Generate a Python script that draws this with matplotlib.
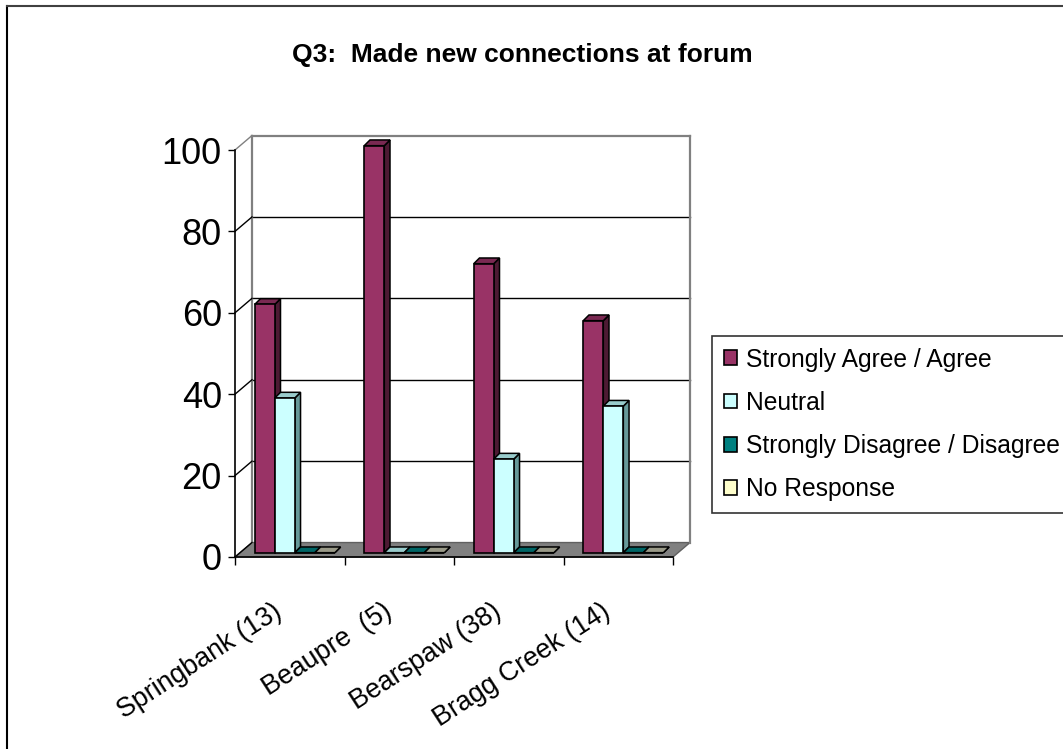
import matplotlib
matplotlib.use("Agg")
import matplotlib.pyplot as plt
from matplotlib.patches import Polygon, Patch
from matplotlib.lines import Line2D
from matplotlib.transforms import ScaledTranslation

plt.rcParams["font.family"] = ["Liberation Sans", "DejaVu Sans"]

# ---- data -------------------------------------------------------------
categories = ["Springbank (13)", "Beaupre  (5)", "Bearspaw (38)", "Bragg Creek (14)"]
series_names = ["Strongly Agree / Agree", "Neutral",
                "Strongly Disagree / Disagree", "No Response"]
agree = [61, 100, 71, 57]
neutral = [38, 0, 23, 36]
disagree = [0, 0, 0, 0]
no_response = [0, 0, 0, 0]
y_ticks = [0, 20, 40, 60, 80, 100]
title = "Q3:  Made new connections at forum"

# ---- styling ----------------------------------------------------------
front_colors = ["#993366", "#CCFFFF", "#008080", "#FFFFCC"]
top_colors = ["#7A2952", "#99CCCC", "#006666", "#9A9A88"]
side_colors = ["#4D1A33", "#669999", "#004545", "#808066"]

W, H = 1063, 749
fig = plt.figure(figsize=(W / 100, H / 100), dpi=100)
fig.patch.set_facecolor("white")

# front plane of the 3-D box (pixel geometry of the plot area)
x0_px, x1_px, y0_px, y1_px = 235, 673, 557, 150
ax = fig.add_axes([x0_px / W, 1 - y0_px / H, (x1_px - x0_px) / W, (y0_px - y1_px) / H])
ax.set_xlim(0, len(categories))
ax.set_ylim(0, 100)
ax.patch.set_visible(False)

n_cat = len(categories)
DX, DY = 0.155, 3.55          # depth of the box (data units)
BDX, BDY = 0.052, 1.4         # depth of each column
F = 0.3                       # depth position of the column fronts
bar_w = 0.183
gap = (1 - 4 * bar_w) / 2

# floor
ax.add_patch(Polygon([(0, 0), (n_cat, 0), (n_cat + DX, DY), (DX, DY)], closed=True,
                     facecolor="#808080", edgecolor="#606060", lw=1, zorder=1,
                     clip_on=False))
# back wall gridlines and edges
for v in y_ticks[1:-1]:
    ax.plot([DX, n_cat + DX], [v + DY, v + DY], color="black", lw=1, zorder=1.5,
            clip_on=False)
wall = dict(color="#808080", lw=1.6, zorder=1.6, clip_on=False)
ax.plot([DX, n_cat + DX], [100 + DY, 100 + DY], **wall)
ax.plot([DX, DX], [DY, 100 + DY], **wall)
ax.plot([n_cat + DX, n_cat + DX], [DY, 100 + DY], **wall)
# side wall lines joining the front axis to the back wall
for v in y_ticks:
    c = "#808080" if v == 100 else "black"
    ax.plot([0, DX], [v, v + DY], color=c, lw=1, zorder=1.6, clip_on=False)

# columns
series = [agree, neutral, disagree, no_response]
for i in range(n_cat):
    for j, vals in enumerate(series):
        v = vals[i]
        xl = i + gap + j * bar_w + F * DX
        b = F * DY
        z = 3 + i + j * 0.1
        side = [(xl + bar_w, b), (xl + bar_w, b + v),
                (xl + bar_w + BDX, b + v + BDY), (xl + bar_w + BDX, b + BDY)]
        top = [(xl, b + v), (xl + bar_w, b + v),
               (xl + bar_w + BDX, b + v + BDY), (xl + BDX, b + v + BDY)]
        ax.add_patch(Polygon(side, closed=True, facecolor=side_colors[j],
                             edgecolor="black", lw=1.1, zorder=z, clip_on=False))
        ax.add_patch(Polygon(top, closed=True, facecolor=top_colors[j],
                             edgecolor="black", lw=1.1, zorder=z, clip_on=False))
        bars = ax.bar([xl], [v], width=bar_w, bottom=b, align="edge",
                      color=front_colors[j], edgecolor="black", lw=1.2,
                      zorder=z + 0.01)
        for p in bars:
            p.set_clip_on(False)

# axes, ticks and labels
for s in ("top", "right"):
    ax.spines[s].set_visible(False)
ax.spines["left"].set_linewidth(1.2)
ax.spines["bottom"].set_linewidth(1.2)
ax.spines["left"].set_zorder(2)
ax.spines["bottom"].set_zorder(2)
ax.set_yticks(y_ticks)
ax.set_yticklabels([str(t) for t in y_ticks])
ax.tick_params(axis="y", direction="out", length=5, width=1, pad=4.5, labelsize=26)
ax.set_xticks(range(n_cat + 1))
ax.set_xticklabels([])
ax.tick_params(axis="x", which="major", direction="out", length=6, width=1)
ax.set_xticks([i + 0.5 for i in range(n_cat)], minor=True)
ax.set_xticklabels(categories, minor=True, rotation=33, ha="right", va="top",
                   rotation_mode="anchor", fontsize=19.3)
ax.tick_params(axis="x", which="minor", length=0, pad=30)
shift = ScaledTranslation(-17 / 100, 0, fig.dpi_scale_trans)
for lbl in ax.get_xticklabels(minor=True):
    lbl.set_transform(lbl.get_transform() + shift)

# title
fig.text(522 / W, 1 - 62 / H, title, ha="center", va="baseline",
         fontsize=19, fontweight="bold")

# legend
handles = [Patch(facecolor=c, edgecolor="black", lw=1.2) for c in front_colors]
leg = fig.legend(handles, series_names, loc="upper left",
                 bbox_to_anchor=(712 / W, 1 - 336 / H), borderaxespad=0,
                 fontsize=17.7, frameon=True, fancybox=False, shadow=False,
                 handlelength=0.55, handleheight=0.55, handletextpad=0.35,
                 labelspacing=0.78, borderpad=0.47)
leg.get_frame().set_edgecolor("black")
leg.get_frame().set_linewidth(1.2)

# chart border
fig.add_artist(Line2D([7 / W, 7 / W], [0, 1 - 6 / H], color="black", lw=1.5,
                      transform=fig.transFigure))
fig.add_artist(Line2D([7 / W, 1], [1 - 6 / H, 1 - 6 / H], color="#404040", lw=1.5,
                      transform=fig.transFigure))

fig.savefig("out.png", dpi=100)
